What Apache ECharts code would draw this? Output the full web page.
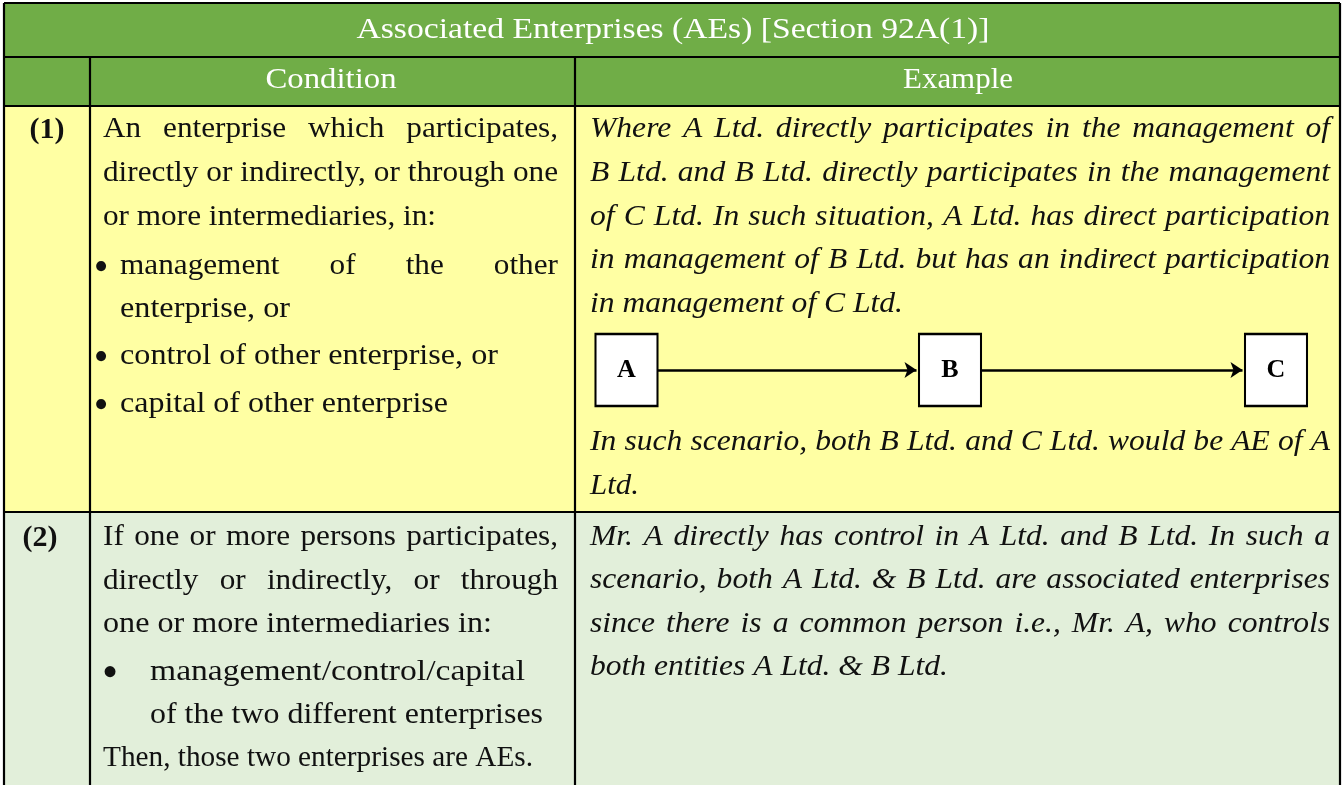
<!DOCTYPE html>
<html>
<head>
<meta charset="utf-8">
<script src="https://cdn.jsdelivr.net/npm/echarts@6/dist/echarts.min.js"></script>
<style>
html,body{margin:0;padding:0;background:#fff;}
#chart{width:1344px;height:785px;}
</style>
</head>
<body>
<div id="chart"></div>
<script>
// ---------------- DATA (text content) ----------------
const tableTitle = 'Associated Enterprises (AEs) [Section 92A(1)]';
const columnHeaders = ['', 'Condition', 'Example'];
const rowNumbers = ['(1)', '(2)'];

const conditionRow1 = ['An enterprise which participates,', 'directly or indirectly, or through one', 'or more intermediaries, in:'];
const conditionRow1Bullets = [['management of the other', 'enterprise, or'], ['control of other enterprise, or'], ['capital of other enterprise']];
const exampleRow1 = ['Where A Ltd. directly participates in the management of',
  'B Ltd. and B Ltd. directly participates in the management',
  'of C Ltd. In such situation, A Ltd. has direct participation',
  'in management of B Ltd. but has an indirect participation',
  'in management of C Ltd.'];
const exampleRow1After = ['In such scenario, both B Ltd. and C Ltd. would be AE of A', 'Ltd.'];

const conditionRow2 = ['If one or more persons participates,', 'directly or indirectly, or through', 'one or more intermediaries in:'];
const conditionRow2Bullets = [['management/control/capital', 'of the two different enterprises']];
const conditionRow2After = ['Then, those two enterprises are AEs.'];
const exampleRow2 = ['Mr. A directly has control in A Ltd. and B Ltd. In such a',
  'scenario, both A Ltd. & B Ltd. are associated enterprises',
  'since there is a common person i.e., Mr. A, who controls',
  'both entities A Ltd. & B Ltd.'];

const flowNodes = ['A', 'B', 'C'];
const flowLinks = [['A', 'B'], ['B', 'C']];

// ---------------- LAYOUT / STYLE ----------------
const W = 1344, H = 785;
const FONT = '"Liberation Serif", "Times New Roman", serif';
const FS_REG = 30, FS_IT = 29, FS_HEAD = 30;
const GREEN = '#70AD47', YELLOW = '#FFFFA3', LGREEN = '#E2EFDA';
const colX = [4, 90, 575, 1340];
const rowY = [3, 57, 106, 512, 800];

const cv = document.createElement('canvas').getContext('2d');
function tw(str, st, size, weight) {
  cv.font = (st || 'normal') + ' ' + (weight || 'normal') + ' ' + size + 'px ' + FONT;
  return cv.measureText(str).width;
}
const sReg = 333 / tw('or more intermediaries, in:', 'normal', FS_REG);
const sIt = 358 / tw('both entities A Ltd. & B Ltd.', 'italic', FS_IT);

// paragraph layout: left/right edges, line centres, right ends of unjustified lines
const paragraphs = [
  { lines: conditionRow1, x0: 103, x1: 558, ys: [129, 173, 217], ends: [null, null, 436], italic: false, justify: true },
  { lines: conditionRow1Bullets[0], x0: 120, x1: 558, ys: [266, 309], ends: [null, 290], italic: false, justify: true, bullet: [101, 42] },
  { lines: conditionRow1Bullets[1], x0: 120, x1: 558, ys: [356], ends: [498], italic: false, justify: true, bullet: [101, 42] },
  { lines: conditionRow1Bullets[2], x0: 120, x1: 558, ys: [404], ends: [448], italic: false, justify: true, bullet: [101, 42] },
  { lines: exampleRow1, x0: 590, x1: 1330, ys: [129, 173, 217, 260, 304], ends: [null, null, null, null, 903], italic: true, justify: true },
  { lines: exampleRow1After, x0: 590, x1: 1330, ys: [442, 486], ends: [null, 639], italic: true, justify: true },
  { lines: conditionRow2, x0: 103, x1: 558, ys: [537, 581, 624], ends: [null, null, 492], italic: false, justify: true },
  { lines: conditionRow2Bullets[0], x0: 150, x1: 558, ys: [672, 715], ends: [525, 543], italic: false, justify: false, bullet: [110, 46] },
  { lines: conditionRow2After, x0: 103, x1: 558, ys: [758], ends: [533], italic: false, justify: false },
  { lines: exampleRow2, x0: 590, x1: 1330, ys: [537, 580, 624, 667], ends: [null, null, null, 948], italic: true, justify: true }
];

function wordsOf(p) {
  const st = p.italic ? 'italic' : 'normal';
  const fs = p.italic ? FS_IT : FS_REG;
  const out = [];
  p.lines.forEach(function (line, li) {
    const words = line.split(' ');
    let s = p.italic ? sIt : sReg;
    const end = p.ends && p.ends[li];
    if (end) s = (end - p.x0) / tw(line, st, fs);
    const ws = words.map(function (w) { return tw(w, st, fs) * s; });
    const sum = ws.reduce(function (a, b) { return a + b; }, 0);
    let gap = tw(' ', st, fs) * s;
    if (!end && p.justify && words.length > 1) gap = (p.x1 - p.x0 - sum) / (words.length - 1);
    let x = p.x0;
    words.forEach(function (w, i) {
      out.push({ text: w, x: x, y: p.ys[li], st: st, s: s, weight: 'normal', size: fs, align: 'left' });
      x += ws[i] + gap;
    });
  });
  if (p.bullet) {
    out.push({ text: '\u2022', x: p.bullet[0], y: p.ys[0] + 3, st: 'normal', s: 1, weight: 'normal', size: p.bullet[1], align: 'center' });
  }
  return out;
}

const textItems = [];
paragraphs.forEach(function (p) { wordsOf(p).forEach(function (w) { textItems.push(w); }); });

function fitScale(str, target, size, weight) { return target / tw(str, 'normal', size, weight); }
textItems.push({ text: tableTitle, x: 673, y: 30, st: 'normal', s: fitScale(tableTitle, 633, FS_HEAD), weight: 'normal', size: FS_HEAD, align: 'center', fill: '#fff' });
textItems.push({ text: columnHeaders[1], x: 331, y: 80, st: 'normal', s: fitScale(columnHeaders[1], 131, FS_HEAD), weight: 'normal', size: FS_HEAD, align: 'center', fill: '#fff' });
textItems.push({ text: columnHeaders[2], x: 958, y: 80, st: 'normal', s: fitScale(columnHeaders[2], 110, FS_HEAD), weight: 'normal', size: FS_HEAD, align: 'center', fill: '#fff' });
textItems.push({ text: rowNumbers[0], x: 47, y: 130, st: 'normal', s: 1, weight: 'bold', size: 30, align: 'center' });
textItems.push({ text: rowNumbers[1], x: 40, y: 538, st: 'normal', s: 1, weight: 'bold', size: 30, align: 'center' });

const cells = [
  [colX[0], rowY[0], colX[3], rowY[1], GREEN],
  [colX[0], rowY[1], colX[3], rowY[2], GREEN],
  [colX[0], rowY[2], colX[3], rowY[3], YELLOW],
  [colX[0], rowY[3], colX[3], rowY[4], LGREEN]
];
const borders = [
  [colX[0], rowY[0], colX[3], rowY[0]],
  [colX[0], rowY[1], colX[3], rowY[1]],
  [colX[0], rowY[2], colX[3], rowY[2]],
  [colX[0], rowY[3], colX[3], rowY[3]],
  [colX[0], rowY[0], colX[0], rowY[4]],
  [colX[3], rowY[0], colX[3], rowY[4]],
  [colX[1], rowY[1], colX[1], rowY[4]],
  [colX[2], rowY[1], colX[2], rowY[4]]
];

const flowX = [626.5, 950, 1276];
const flowY = 370;

const chart = echarts.init(document.getElementById('chart'), null, { renderer: 'canvas' });
chart.setOption({
  animation: false,
  backgroundColor: '#fff',
  grid: { left: 0, right: 0, top: 0, bottom: 0 },
  xAxis: { type: 'value', min: 0, max: W, show: false },
  yAxis: { type: 'value', min: 0, max: H, inverse: true, show: false },
  series: [
    {
      type: 'custom', z: 1, silent: true, clip: false,
      data: cells.map(function (c) { return [c[0], c[1], c[2], c[3]]; }),
      encode: { x: [0, 2], y: [1, 3] },
      renderItem: function (params, api) {
        const c = cells[params.dataIndex];
        const p0 = api.coord([c[0], c[1]]), p1 = api.coord([c[2], c[3]]);
        return { type: 'rect', shape: { x: p0[0], y: p0[1], width: p1[0] - p0[0], height: p1[1] - p0[1] }, style: { fill: c[4] } };
      }
    },
    {
      type: 'custom', z: 2, silent: true, clip: false,
      data: borders,
      encode: { x: [0, 2], y: [1, 3] },
      renderItem: function (params, api) {
        const b = borders[params.dataIndex];
        const p0 = api.coord([b[0], b[1]]), p1 = api.coord([b[2], b[3]]);
        return { type: 'line', shape: { x1: p0[0], y1: p0[1], x2: p1[0], y2: p1[1] }, style: { stroke: '#000', lineWidth: 2.2 } };
      }
    },
    {
      type: 'custom', z: 3, silent: true, clip: false,
      data: textItems.map(function (t) { return [t.x, t.y]; }),
      renderItem: function (params, api) {
        const t = textItems[params.dataIndex];
        const p = api.coord([t.x, t.y]);
        return {
          type: 'text', x: p[0], y: p[1], scaleX: t.s, scaleY: 1,
          style: {
            text: t.text, x: 0, y: 0,
            fontFamily: FONT, fontSize: t.size, fontStyle: t.st, fontWeight: t.weight,
            fill: t.fill || '#111', textAlign: t.align, textVerticalAlign: 'middle'
          }
        };
      }
    },
    {
      type: 'graph', z: 4, coordinateSystem: 'cartesian2d', layout: 'none', silent: true,
      symbol: 'rect', symbolSize: [62, 72],
      itemStyle: { color: '#fff', borderColor: '#000', borderWidth: 2.2, opacity: 1 },
      label: { show: true, position: 'inside', color: '#000', fontFamily: FONT, fontWeight: 'bold', fontSize: 26 },
      edgeSymbol: ['none', 'arrow'], edgeSymbolSize: [0, 12],
      lineStyle: { color: '#000', width: 2.5, opacity: 1, curveness: 0 },
      data: flowNodes.map(function (n, i) { return { name: n, value: [flowX[i], flowY] }; }),
      links: flowLinks.map(function (l) { return { source: l[0], target: l[1] }; })
    }
  ]
});
</script>
</body>
</html>
